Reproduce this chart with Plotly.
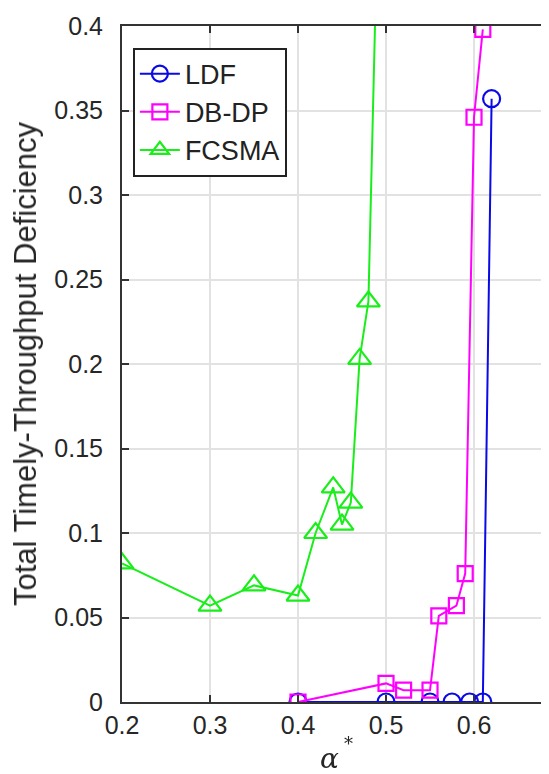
import plotly.graph_objects as go

# ---- data ----
ldf_x = [0.40, 0.50, 0.55, 0.575, 0.595, 0.61, 0.62]
ldf_y = [0.0, 0.0, 0.0, 0.0, 0.0, 0.0, 0.357]

dbdp_x = [0.40, 0.50, 0.52, 0.55, 0.56, 0.58, 0.59, 0.60, 0.61]
dbdp_y = [0.0, 0.011, 0.007, 0.007, 0.051, 0.057, 0.076, 0.346, 0.398]

fcsma_x = [0.20, 0.30, 0.35, 0.40, 0.42, 0.44, 0.45, 0.46, 0.47, 0.48, 0.49]
fcsma_y = [0.082, 0.057, 0.069, 0.063, 0.100, 0.127, 0.105, 0.118, 0.203, 0.237, 0.455]

x_ticks = [0.2, 0.3, 0.4, 0.5, 0.6, 0.7]
x_tick_labels = ["0.2", "0.3", "0.4", "0.5", "0.6", "0.7"]
y_ticks = [0, 0.05, 0.1, 0.15, 0.2, 0.25, 0.3, 0.35, 0.4]
y_tick_labels = ["0", "0.05", "0.1", "0.15", "0.2", "0.25", "0.3", "0.35", "0.4"]

x_title = "α"
x_title_sup = "*"
y_title = "Total Timely-Throughput Deficiency"

x_range = [0.2, 0.6943]
y_range = [0, 0.4]

FONT = "Liberation Sans, Arial, sans-serif"
AXC = "#333333"

fig = go.Figure()

fig.add_trace(go.Scatter(
    x=ldf_x, y=ldf_y, name="LDF", mode="lines+markers",
    line=dict(color="#0a0ae6", width=2),
    marker=dict(symbol="circle-open", size=17, color="#0a0ae6", line=dict(width=2.2)),
))
fig.add_trace(go.Scatter(
    x=dbdp_x, y=dbdp_y, name="DB-DP", mode="lines+markers",
    line=dict(color="#ff00ff", width=2),
    marker=dict(symbol="square-open", size=15, color="#ff00ff", line=dict(width=2.2)),
))
fig.add_trace(go.Scatter(
    x=fcsma_x, y=fcsma_y, name="FCSMA", mode="lines+markers",
    line=dict(color="#1aee1a", width=2),
    marker=dict(symbol="triangle-up-open", size=20, color="#1aee1a", line=dict(width=2.2)),
))
# invisible copy on the right-hand axis so its inner tick marks get drawn
fig.add_trace(go.Scatter(
    x=ldf_x, y=ldf_y, yaxis="y2", mode="markers", opacity=0,
    showlegend=False, hoverinfo="skip",
))

fig.update_layout(
    width=549, height=774,
    margin=dict(l=114, r=0, t=18, b=80),
    paper_bgcolor="white", plot_bgcolor="white",
    font=dict(family=FONT, color="#262626"),
    showlegend=True,
    legend=dict(
        x=0.025, y=0.968, xanchor="left", yanchor="top",
        bgcolor="white", bordercolor="#222222", borderwidth=2,
        font=dict(size=27, family=FONT, color="#222222"),
        itemwidth=40,
    ),
    xaxis=dict(
        range=x_range, tickvals=x_ticks, ticktext=x_tick_labels,
        showgrid=True, gridcolor="#e2e2e2", gridwidth=1.5,
        showline=True, linecolor=AXC, linewidth=2, mirror="ticks",
        ticks="inside", ticklen=7, tickwidth=2, tickcolor=AXC,
        tickfont=dict(size=25, family=FONT, color="#262626"),
        ticklabelstandoff=0,
        zeroline=False,
    ),
    yaxis=dict(
        range=y_range, tickvals=y_ticks, ticktext=y_tick_labels,
        showgrid=True, gridcolor="#e2e2e2", gridwidth=1.5,
        showline=True, linecolor=AXC, linewidth=2, mirror=False,
        ticks="inside", ticklen=7, tickwidth=2, tickcolor=AXC,
        tickfont=dict(size=25, family=FONT, color="#262626"),
        ticklabelstandoff=12,
        zeroline=False,
        title=dict(text=y_title, font=dict(size=31, family=FONT, color="#262626"), standoff=14),
    ),
    yaxis2=dict(
        range=y_range, tickvals=y_ticks, overlaying="y", side="right",
        showgrid=False, showline=False, zeroline=False, showticklabels=False,
        ticks="inside", ticklen=7, tickwidth=2, tickcolor=AXC,
    ),
    annotations=[
        dict(text="<i>" + x_title + "</i>", xref="paper", yref="paper",
             x=0.478, y=-0.083, xanchor="center", yanchor="middle", showarrow=False,
             font=dict(size=28, family="DejaVu Serif, serif", color="#262626")),
        dict(text=x_title_sup, xref="paper", yref="paper",
             x=0.52, y=-0.061, xanchor="center", yanchor="middle", showarrow=False,
             font=dict(size=18, family="DejaVu Serif, serif", color="#262626")),
    ],
)

fig.write_html("out.html")
